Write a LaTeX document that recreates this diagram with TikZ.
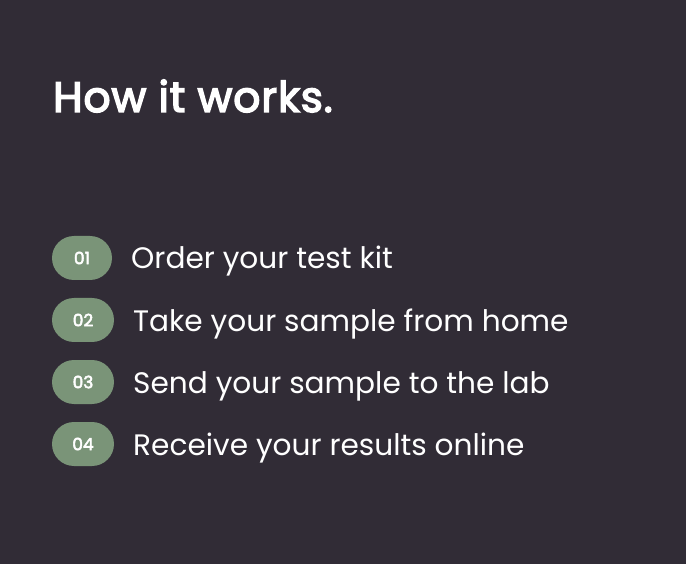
\documentclass[tikz,border=0pt]{standalone}
\usepackage{fontspec}
\setmainfont{Poppins}
\newfontfamily\titlefont[FakeBold=3.5,LetterSpace=2]{Poppins}
\newfontfamily\numfont[FakeBold=3]{Poppins}
\definecolor{bg}{HTML}{312C36}
\definecolor{pill}{HTML}{7A9478}
\begin{document}
\begin{tikzpicture}[x=1pt,y=-1pt,
  pillbox/.style={fill=pill,rounded corners=22pt,minimum width=62pt,minimum height=44pt,inner sep=0pt,text=white,font=\numfont\fontsize{17}{17}\selectfont},
  steptext/.style={anchor=base west,text=white,inner sep=0pt,font=\fontsize{29.6}{32}\selectfont}]
\fill[bg] (0,0) rectangle (686,564);
\useasboundingbox (0,0) rectangle (686,564);
\node[anchor=base west,text=white,inner sep=0pt,font=\titlefont\fontsize{42.5}{44}\selectfont] (title) at (53,112) {How it works.};
\node[pillbox,minimum width=60pt] (p1) at (82,258) {01};
\node[steptext] (t1) at (131,269) {Order your test kit};
\node[pillbox] (p2) at (83,320) {02};
\node[steptext] (t2) at (133,331) {Take your sample from home};
\node[pillbox] (p3) at (83,382) {03};
\node[steptext] (t3) at (133,393) {Send your sample to the lab};
\node[pillbox] (p4) at (83,444) {04};
\node[steptext] (t4) at (133,455) {Receive your results online};
\end{tikzpicture}
\end{document}
